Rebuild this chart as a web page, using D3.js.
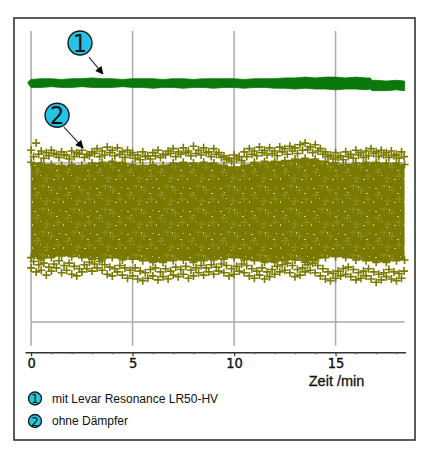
<!DOCTYPE html>
<html lang="de">
<head>
<meta charset="UTF-8">
<title>Zeit /min</title>
<script src="https://d3js.org/d3.v7.min.js"></script>
<style>
  body { margin: 0; background: #fff; }
  text { font-family: "Liberation Sans", Arial, sans-serif; }
  .tick text, .badge-num { font-family: "Liberation Sans Narrow", "DejaVu Sans Condensed", sans-serif; }
</style>
</head>
<body>
<div id="chart"></div>
<script>
// x ticks (minutes)
var majorTicks = [0, 5, 10, 15];
var minorTicks = [1, 2, 3, 4, 6, 7, 8, 9, 11, 12, 13, 14, 16, 17, 18];
var gridLevels = [0, 1, 2, 3];

// curve 1: mit Levar Resonance LR50-HV (band upper / lower edge)
var greenTime = [-0.15, 0, 0.5, 1, 1.5, 2, 2.5, 3, 3.5, 4, 4.5, 5, 5.5, 6, 6.5, 7, 7.5, 8, 8.5, 9, 9.5,
                 10, 10.5, 11, 11.5, 12, 12.5, 13, 13.5, 14, 14.5, 15, 15.5, 16, 16.5, 16.7, 16.8, 17, 17.5, 18, 18.4];
var greenHigh = [3.02, 3.05, 3.06, 3.06, 3.05, 3.06, 3.06, 3.07, 3.06, 3.06, 3.05, 3.06, 3.06, 3.06, 3.05, 3.06, 3.06, 3.05, 3.06, 3.06, 3.06,
                 3.06, 3.05, 3.06, 3.06, 3.06, 3.07, 3.07, 3.08, 3.07, 3.08, 3.08, 3.07, 3.08, 3.07, 3.07, 3.04, 3.04, 3.03, 3.04, 3.03];
var greenLow  = [3.00, 2.95, 2.95, 2.96, 2.95, 2.95, 2.96, 2.95, 2.95, 2.95, 2.96, 2.95, 2.95, 2.94, 2.95, 2.95, 2.94, 2.95, 2.95, 2.94, 2.95,
                 2.95, 2.94, 2.95, 2.95, 2.94, 2.94, 2.93, 2.94, 2.93, 2.93, 2.92, 2.93, 2.93, 2.92, 2.93, 2.91, 2.91, 2.91, 2.92, 2.91];

// curve 2: ohne Dämpfer, dense core of the scatter
var coreTime = [0, 0.5, 1, 1.5, 2, 2.5, 3, 3.5, 4, 4.5, 5, 5.5, 6, 6.5, 7, 7.5, 8, 8.5, 9, 9.5,
                10, 10.5, 11, 11.5, 12, 12.5, 13, 13.5, 14, 14.5, 15, 15.5, 16, 16.5, 17, 17.5, 18, 18.4];
var coreHigh = [2.01, 2.00, 1.98, 1.97, 1.98, 1.97, 2.00, 2.01, 2.02, 2.01, 1.98, 1.97, 1.98, 1.97, 2.00, 2.01, 2.00, 2.01, 2.00, 1.97,
                1.95, 1.97, 2.01, 2.02, 2.02, 2.03, 2.05, 2.06, 2.05, 2.02, 2.00, 1.98, 2.00, 2.01, 2.01, 2.00, 2.00, 1.98];
var coreLow  = [0.81, 0.78, 0.81, 0.83, 0.82, 0.81, 0.79, 0.78, 0.81, 0.78, 0.79, 0.77, 0.75, 0.75, 0.77, 0.78, 0.75, 0.77, 0.78, 0.79,
                0.81, 0.78, 0.77, 0.75, 0.75, 0.77, 0.78, 0.75, 0.77, 0.81, 0.82, 0.81, 0.78, 0.77, 0.75, 0.75, 0.77, 0.78];

// curve 2: "+" markers in the ragged upper and lower fringe
var crossTime = [0, 0.25, 0.5, 0.75, 1, 1.25, 1.5, 1.75, 2, 2.25, 2.5, 2.75, 3, 3.25, 3.5, 3.75, 4, 4.25, 4.5, 4.75,
                 5, 5.25, 5.5, 5.75, 6, 6.25, 6.5, 6.75, 7, 7.25, 7.5, 7.75, 8, 8.25, 8.5, 8.75, 9, 9.25, 9.5, 9.75,
                 10, 10.25, 10.5, 10.75, 11, 11.25, 11.5, 11.75, 12, 12.25, 12.5, 12.75, 13, 13.25, 13.5, 13.75, 14, 14.25, 14.5, 14.75,
                 15, 15.25, 15.5, 15.75, 16, 16.25, 16.5, 16.75, 17, 17.25, 17.5, 17.75, 18, 18.25];
var crossHigh = [2.16, 2.25, 2.15, 2.13, 2.16, 2.11, 2.14, 2.10, 2.15, 2.13, 2.16, 2.11, 2.14, 2.18, 2.15, 2.20, 2.16, 2.19, 2.14, 2.16,
                 2.13, 2.10, 2.14, 2.09, 2.13, 2.16, 2.11, 2.15, 2.18, 2.14, 2.19, 2.15, 2.21, 2.16, 2.19, 2.14, 2.18, 2.13, 2.09, 2.06,
                 2.10, 2.08, 2.14, 2.18, 2.15, 2.20, 2.16, 2.19, 2.15, 2.20, 2.18, 2.21, 2.19, 2.23, 2.25, 2.20, 2.23, 2.18, 2.14, 2.10,
                 2.13, 2.09, 2.14, 2.11, 2.16, 2.13, 2.15, 2.18, 2.14, 2.16, 2.13, 2.15, 2.11, 2.14];
var crossHighMid = [2.08, 2.11, 2.06, 2.09, 2.12, 2.07, 2.10, 2.05, 2.08, 2.11, 2.07, 2.09, 2.12, 2.08, 2.10, 2.13, 2.09, 2.11, 2.07, 2.10,
                    2.06, 2.04, 2.08, 2.05, 2.09, 2.07, 2.10, 2.12, 2.08, 2.11, 2.13, 2.09, 2.12, 2.10, 2.13, 2.08, 2.11, 2.07, 2.04, 2.02,
                    2.05, 2.03, 2.08, 2.11, 2.09, 2.13, 2.10, 2.12, 2.09, 2.14, 2.11, 2.15, 2.12, 2.16, 2.17, 2.13, 2.15, 2.11, 2.08, 2.05,
                    2.07, 2.04, 2.08, 2.06, 2.10, 2.07, 2.09, 2.12, 2.08, 2.10, 2.07, 2.09, 2.06, 2.08];
var crossLowMid = [0.76, 0.72, 0.74, 0.69, 0.73, 0.77, 0.71, 0.74, 0.70, 0.67, 0.72, 0.75, 0.73, 0.76, 0.72, 0.69, 0.67, 0.71, 0.68, 0.65,
                   0.68, 0.64, 0.62, 0.66, 0.68, 0.63, 0.67, 0.64, 0.69, 0.66, 0.70, 0.65, 0.68, 0.71, 0.68, 0.72, 0.69, 0.73, 0.71, 0.67,
                   0.70, 0.73, 0.71, 0.67, 0.64, 0.68, 0.63, 0.66, 0.70, 0.72, 0.74, 0.71, 0.66, 0.68, 0.72, 0.74, 0.71, 0.67, 0.63, 0.61,
                   0.64, 0.67, 0.69, 0.66, 0.62, 0.64, 0.67, 0.63, 0.60, 0.62, 0.66, 0.63, 0.61, 0.64];
var crossLow  = [0.68, 0.63, 0.65, 0.59, 0.64, 0.68, 0.62, 0.65, 0.60, 0.58, 0.63, 0.67, 0.64, 0.68, 0.65, 0.60, 0.58, 0.63, 0.59, 0.55,
                 0.58, 0.54, 0.52, 0.55, 0.58, 0.53, 0.57, 0.54, 0.59, 0.57, 0.60, 0.55, 0.58, 0.62, 0.59, 0.63, 0.60, 0.64, 0.62, 0.58,
                 0.60, 0.64, 0.62, 0.58, 0.55, 0.59, 0.54, 0.57, 0.60, 0.63, 0.65, 0.62, 0.57, 0.59, 0.63, 0.65, 0.62, 0.58, 0.54, 0.52,
                 0.55, 0.58, 0.60, 0.57, 0.53, 0.55, 0.58, 0.54, 0.50, 0.53, 0.57, 0.54, 0.52, 0.55];

var legendLabels = ["mit Levar Resonance LR50-HV", "ohne Dämpfer"];

var W = 438, H = 461;
var svg = d3.select("#chart").append("svg")
    .attr("width", W)
    .attr("height", H);

var x = d3.scaleLinear().domain([-0.3, 18.45]).range([25, 405.6]);
var y = d3.scaleLinear().domain([-0.38, 3.66]).range([352.2, 31]);

// frame
svg.append("rect")
    .attr("x", 14).attr("y", 18)
    .attr("width", 401).attr("height", 422)
    .attr("fill", "#fff")
    .attr("stroke", "#333")
    .attr("stroke-width", 1.6);

// grid
svg.append("g").selectAll("line").data(majorTicks).enter().append("line")
    .attr("x1", d => x(d)).attr("x2", d => x(d))
    .attr("y1", y(3.66)).attr("y2", y(-0.3))
    .attr("stroke", "#aaa").attr("stroke-width", 1.5);
svg.append("g").selectAll("line").data(gridLevels).enter().append("line")
    .attr("x1", x(0)).attr("x2", x(18.4))
    .attr("y1", d => y(d)).attr("y2", d => y(d))
    .attr("stroke", "#aaa").attr("stroke-width", 1.3);

// texture for the dense scatter
var defs = svg.append("defs");
var pat = defs.append("pattern")
    .attr("id", "dense")
    .attr("patternUnits", "userSpaceOnUse")
    .attr("width", 31).attr("height", 23);
pat.append("rect").attr("width", 31).attr("height", 23).attr("fill", "#7a7a00");
[[3, 4, 2, 1], [17, 2, 1, 2], [9, 14, 1, 1], [25, 9, 2, 1], [14, 20, 1, 1], [1, 17, 1, 2], [22, 18, 2, 1], [28, 3, 1, 1], [7, 8, 1, 1]].forEach(function (s) {
    pat.append("rect").attr("x", s[0]).attr("y", s[1]).attr("width", s[2]).attr("height", s[3])
        .attr("fill", "#fff").attr("opacity", 0.6);
});
[[6, 11], [20, 6], [27, 15], [12, 2], [16, 17]].forEach(function (c) {
    pat.append("path").attr("d", "M" + (c[0] - 4) + "," + c[1] + "h8M" + c[0] + "," + (c[1] - 4) + "v8")
        .attr("stroke", "#929228").attr("stroke-width", 0.9);
});

defs.append("marker")
    .attr("id", "arrow")
    .attr("viewBox", "0 0 10 10")
    .attr("refX", 9).attr("refY", 5)
    .attr("markerWidth", 9).attr("markerHeight", 8)
    .attr("markerUnits", "userSpaceOnUse")
    .attr("orient", "auto")
  .append("path")
    .attr("d", "M0,0L10,5L0,10Z")
    .attr("fill", "#000");

// curve 2: core band
var core = coreTime.map((t, i) => ({t: t, hi: coreHigh[i], lo: coreLow[i]}));
svg.append("path")
    .datum(core)
    .attr("d", d3.area().x(d => x(d.t)).y0(d => y(d.lo)).y1(d => y(d.hi)))
    .attr("fill", "url(#dense)");

// curve 2: fringe markers
var crosses = [];
crossTime.forEach(function (t, i) {
    crosses.push({t: t, v: crossHigh[i]});
    crosses.push({t: t, v: crossLow[i]});
    crosses.push({t: t + 0.125, v: crossHighMid[i]});
    crosses.push({t: t + 0.125, v: crossLowMid[i]});
});
coreTime.forEach(function (t, i) {
    crosses.push({t: t, v: coreHigh[i]});
    crosses.push({t: t, v: coreLow[i]});
});
svg.append("g").selectAll("path").data(crosses).enter().append("path")
    .attr("d", d => "M" + (x(d.t) - 4) + "," + y(d.v) + "h8M" + x(d.t) + "," + (y(d.v) - 4) + "v8")
    .attr("stroke", "#7a7a00").attr("stroke-width", 1.6);

// curve 1
var green = greenTime.map((t, i) => ({t: t, hi: greenHigh[i], lo: greenLow[i]}));
svg.append("path")
    .datum(green)
    .attr("d", d3.area().x(d => x(d.t)).y0(d => y(d.lo)).y1(d => y(d.hi)))
    .attr("fill", "#0a780a")
    .attr("stroke", "#0a780a")
    .attr("stroke-width", 0.8);

// x axis
var axisG = svg.append("g").attr("transform", "translate(0," + y(-0.38) + ")");
axisG.call(d3.axisBottom(x).tickValues(majorTicks).tickSize(4).tickSizeOuter(0).tickFormat(d3.format("d")));
axisG.select(".domain").attr("stroke", "#333").attr("stroke-width", 1.6);
axisG.selectAll(".tick line").attr("stroke", "#333").attr("stroke-width", 1.2);
axisG.selectAll(".tick text")
    .attr("y", 6)
    .attr("fill", "#111")
    .attr("stroke", "#111")
    .attr("stroke-width", 0.35)
    .style("font-size", "14.5px");
svg.append("g").attr("transform", "translate(0," + y(-0.38) + ")")
    .call(d3.axisBottom(x).tickValues(minorTicks).tickSize(2).tickFormat(""))
    .call(g => g.select(".domain").remove())
    .selectAll(".tick line").attr("stroke", "#555").attr("stroke-width", 1.2);

svg.append("text")
    .attr("x", x(15) + 1).attr("y", 386)
    .attr("text-anchor", "middle")
    .attr("fill", "#111")
    .attr("stroke", "#111")
    .attr("stroke-width", 0.3)
    .style("font-size", "14.5px")
    .text("Zeit /min");

// callouts
function badge(cx, cy, r, label, fs) {
    svg.append("circle").attr("cx", cx).attr("cy", cy).attr("r", r)
        .attr("fill", "#25c3e6").attr("stroke", "#1a1a1a").attr("stroke-width", 1.4);
    svg.append("text").attr("class", "badge-num")
        .attr("x", cx).attr("y", cy + fs * 0.36)
        .attr("text-anchor", "middle")
        .attr("fill", "#111")
        .style("font-size", fs + "px")
        .text(label);
}
badge(x(2.41), y(3.51), 12, "1", 25);
badge(x(1.28), y(2.60), 12, "2", 25);

svg.append("line")
    .attr("x1", x(2.85)).attr("y1", y(3.33))
    .attr("x2", x(3.54)).attr("y2", y(3.12))
    .attr("stroke", "#333").attr("stroke-width", 1.2)
    .attr("marker-end", "url(#arrow)");
svg.append("line")
    .attr("x1", x(1.62)).attr("y1", y(2.45))
    .attr("x2", x(2.56)).attr("y2", y(2.19))
    .attr("stroke", "#333").attr("stroke-width", 1.2)
    .attr("marker-end", "url(#arrow)");

// legend
legendLabels.forEach(function (lab, i) {
    var cy = 398.5 + i * 22.5;
    badge(35, cy, 6.5, String(i + 1), 13);
    svg.append("text")
        .attr("x", 52).attr("y", cy + 4.3)
        .attr("fill", "#111")
        .style("font-size", "12px")
        .text(lab);
});
</script>
</body>
</html>
